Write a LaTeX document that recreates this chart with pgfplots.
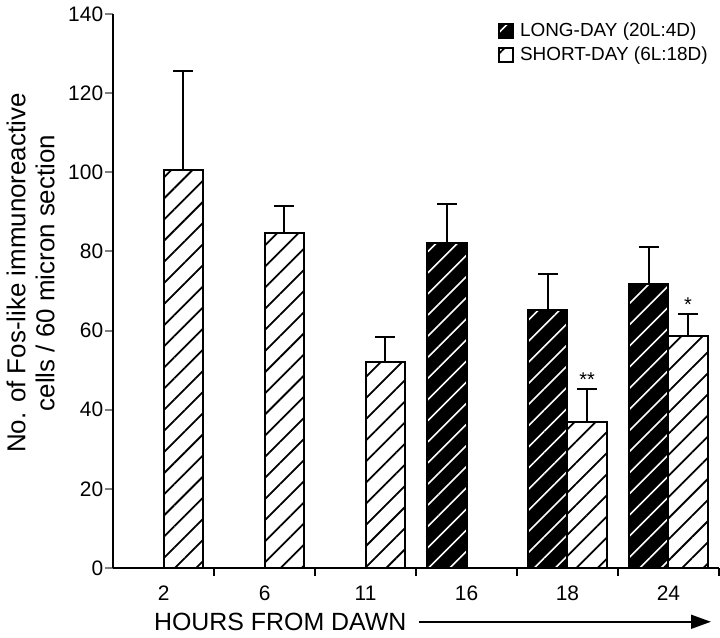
\documentclass[border=0pt]{standalone}
\usepackage{fontspec}
\setmainfont{Liberation Sans}
\usepackage{pgfplots}
\pgfplotsset{compat=1.18}
\usetikzlibrary{patterns.meta,arrows.meta,calc}

% hatching for the two photoperiods
\tikzset{
  longday/.style={fill=black, draw=black, line width=1pt,
    postaction={pattern={Lines[angle=45,distance=7.5pt,line width=0.8pt]}, pattern color=white}},
  shortday/.style={fill=white, draw=black, line width=1pt,
    postaction={pattern={Lines[angle=45,distance=7.5pt,line width=0.9pt]}, pattern color=black}},
}

\begin{document}
\begin{tikzpicture}
\begin{axis}[
  scale only axis,
  width=304pt, height=278pt,
  xmin=-0.5, xmax=5.5,
  ymin=0, ymax=140,
  axis x line=bottom, axis y line=left,
  axis line style={-, line width=1.1pt},
  ytick={0,20,...,140},
  xtick={0,...,5},
  xticklabels={2,6,11,16,18,24},
  minor xtick={0.5,1.5,...,5.5},
  tick align=outside,
  major tick length=4pt,
  minor tick length=4pt,
  x tick style={draw=none},
  minor x tick style={draw=black, line width=1pt},
  y tick style={line width=1pt},
  /pgf/number format/assume math mode=true,
  ticklabel style={font=\fontsize{10.5}{12}\selectfont},
  xticklabel style={yshift=-1.5pt},
  yticklabel style={xshift=2.5pt},
  ylabel={No. of Fos-like immunoreactive\\cells / 60 micron section},
  ylabel style={align=center, font=\fontsize{13}{14.5}\selectfont, xshift=9pt},
  bar width=0.39, bar shift=0pt,
  error bars/y dir=plus,
  error bars/y explicit,
  error bars/error bar style={line width=1pt},
  error bars/error mark options={rotate=90, mark size=5pt, line width=1pt},
  legend style={at={(rel axis cs:0.625,1)}, anchor=north west, draw=none, fill=none,
    font=\fontsize{9.5}{11}\selectfont, row sep=0pt,
    /tikz/every odd column/.append style={column sep=1pt}},
  legend cell align=left,
  legend image code/.code={\draw[#1] (0pt,-3.5pt) rectangle (7pt,3.5pt);},
]
% long-day bars sit left of the category centre, short-day bars right of it
\addplot[ybar, longday] coordinates {
  (2.805,82.1) +- (0,9.8)
  (3.805,65.2) +- (0,9.1)
  (4.805,71.8) +- (0,9.3)
};
\addlegendentry{LONG-DAY (20L:4D)}
\addplot[ybar, shortday] coordinates {
  (0.195,100.5) +- (0,25.2)
  (1.195,84.6) +- (0,6.8)
  (2.195,52.1) +- (0,6.3)
  (4.195,37.0) +- (0,8.3)
  (5.195,58.7) +- (0,5.5)
};
\addlegendentry{SHORT-DAY (6L:18D)}
% significance marks above the short-day error bars
\addplot[only marks, mark=none, nodes near coords, point meta=explicit symbolic,
  nodes near coords style={font=\fontsize{10}{10}\selectfont, anchor=south, inner sep=1pt},
  forget plot] coordinates {
  (4.195,45.3) [**]
  (5.195,64.2) [*]
};
\end{axis}
\node[anchor=west, font=\fontsize{12.5}{14}\selectfont] (xl)
  at ($(current axis.south west)+(17pt,-27pt)$) {HOURS FROM DAWN};
\draw[-{Triangle[length=10pt,width=7pt]}, line width=0.9pt]
  ($(xl.east)+(3pt,0)$) -- ($(current axis.south east)+(-4pt,-27pt)$);
\end{tikzpicture}
\end{document}
